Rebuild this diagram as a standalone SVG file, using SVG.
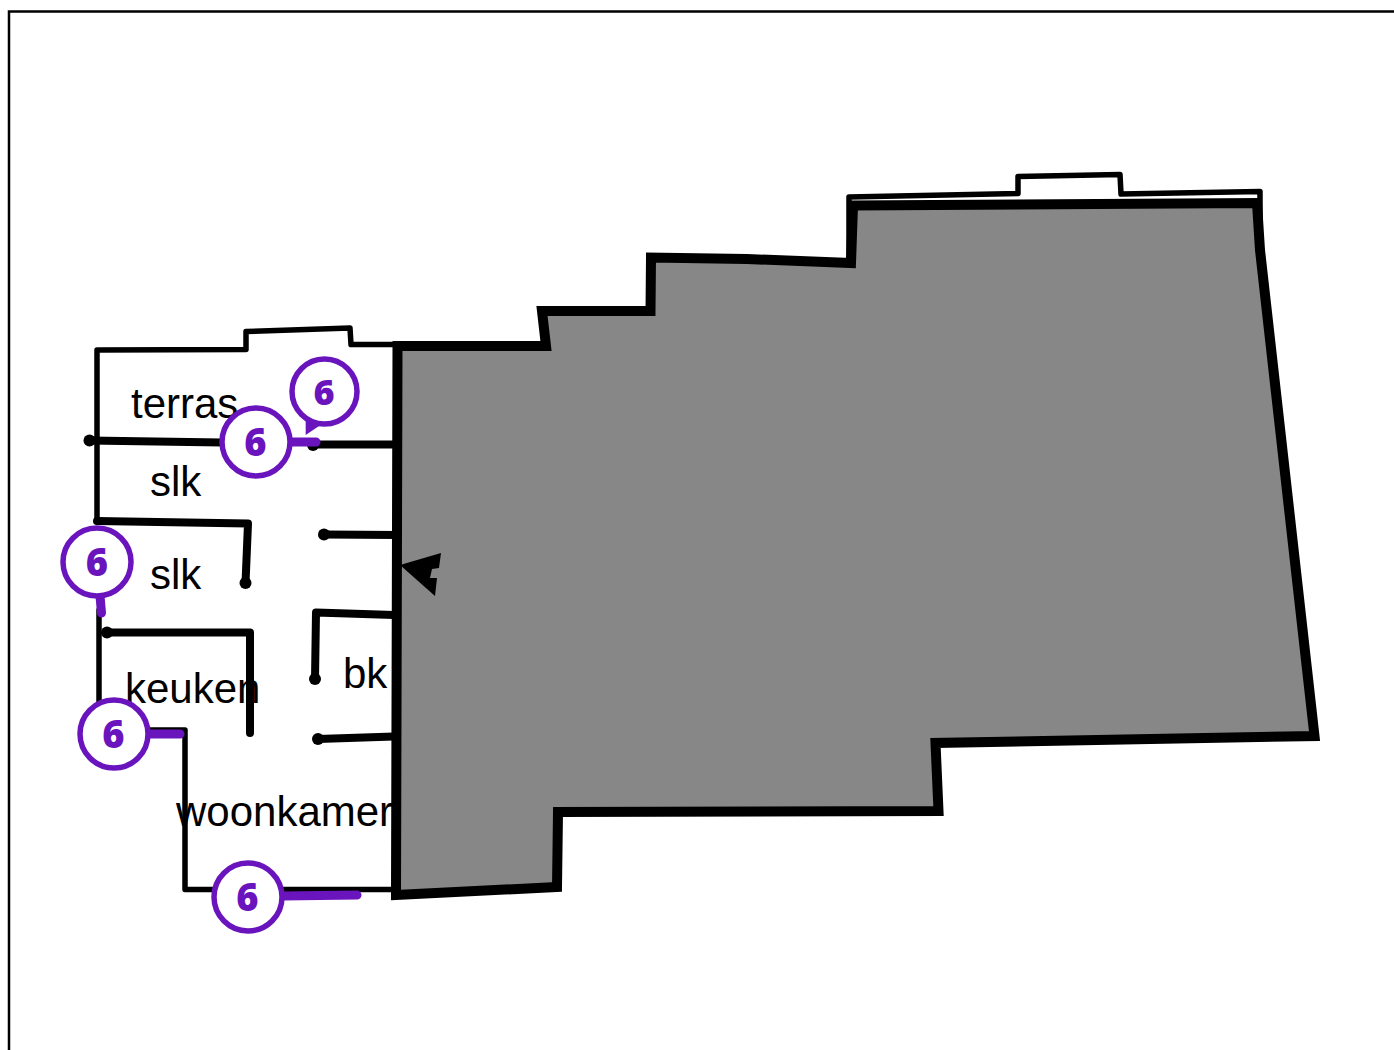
<svg xmlns="http://www.w3.org/2000/svg" width="1394" height="1050" viewBox="0 0 1394 1050">
<style>
.w{fill:none;stroke:#000;stroke-linecap:round;stroke-linejoin:round}
.t5{stroke-width:5.500}.t6{stroke-width:8}
.d{fill:#000}
.l{font-family:"Liberation Sans",Arial,sans-serif;font-size:42px;fill:#000}
.p{fill:none;stroke:#6a14bd;stroke-width:9;stroke-linecap:round}
.c{fill:#fff;stroke:#6a14bd;stroke-width:5.500}
.n{font-family:"Noto Sans","Open Sans",sans-serif;font-weight:900;font-size:38px;fill:#6a14bd;text-anchor:middle}
</style>
<rect width="1394" height="1050" fill="#fff"/>
<path d="M9 1050V11.500H1394" fill="none" stroke="#000" stroke-width="2.500"/>
<g id="building">
<path class="w t5" d="M97 520V350L246 349.500V331.500L350 328L351 344.500H397"/>
<path class="w t5" d="M849 265V197L1018 193.500V176.500L1120 174.500L1121 194L1260 191.500V250"/>
<path class="w t5" d="M746 262V268.500L850 267"/>
<path d="M397.500 346L546 346L542 311L650.500 311L651 257.500L747 259L851 263L853 205.500L1257 203L1260 250L1314.500 736L935.500 743L938.500 811L558 812L557 887L396 895Z" fill="#878787" stroke="#000" stroke-width="10" stroke-linejoin="miter"/>
</g>
<g id="walls">
<path class="w t6" d="M89 440.500L222 442.500"/>
<path class="w t6" d="M313 444.500H396"/>
<path class="w t6" d="M97 521L248 523.500L245.500 583"/>
<path class="w t6" d="M324 534.500L398 535"/>
<path class="w t6" d="M315 679L316 612.500L394 615"/>
<path class="w t6" d="M107 632.500H250V733"/>
<path class="w t6" d="M318 739L394 736.500"/>
<path class="w t5" d="M99 610V705"/>
<path class="w t5" d="M150 730H185V889.500H395"/>
<circle class="d" cx="89.500" cy="440.500" r="6"/>
<circle class="d" cx="313" cy="445" r="6"/>
<circle class="d" cx="245.500" cy="583" r="6"/>
<circle class="d" cx="324" cy="534.500" r="6"/>
<circle class="d" cx="315" cy="679" r="6"/>
<circle class="d" cx="107" cy="632.500" r="6"/>
<circle class="d" cx="318" cy="739" r="6"/>
</g>
<g id="arrow"><path class="d" d="M400 565L441 553L439 568L432 569L430 578L437 578L435 596Z"/></g>
<g id="labels">
<text class="l" x="131" y="418">terras</text>
<text class="l" x="150" y="496">slk</text>
<text class="l" x="150" y="589">slk</text>
<text class="l" x="125" y="703">keuken</text>
<text class="l" x="343" y="688">bk</text>
<text class="l" x="176" y="826">woonkamer</text>
</g>
<g id="marker-1">
<path d="M305.700 435V418L322 424Z" fill="#6a14bd"/>
<circle class="c" cx="324.500" cy="391.500" r="32.500"/><text class="n" x="324" y="405" style="font-size:36px">6</text>
</g>
<g id="marker-2">
<path class="p" d="M290 442H316"/>
<circle class="c" cx="256" cy="442" r="34"/><text class="n" x="255.500" y="456">6</text>
</g>
<g id="marker-3">
<path class="p" d="M100 596L101.500 613"/>
<circle class="c" cx="97" cy="562" r="34"/><text class="n" x="97" y="576">6</text>
</g>
<g id="marker-4">
<path class="p" d="M148 734H180"/>
<circle class="c" cx="114" cy="734" r="34"/><text class="n" x="113.500" y="748">6</text>
</g>
<g id="marker-5">
<path class="p" d="M283 896L357 895"/>
<circle class="c" cx="248" cy="897" r="34"/><text class="n" x="247.500" y="911">6</text>
</g>
</svg>
